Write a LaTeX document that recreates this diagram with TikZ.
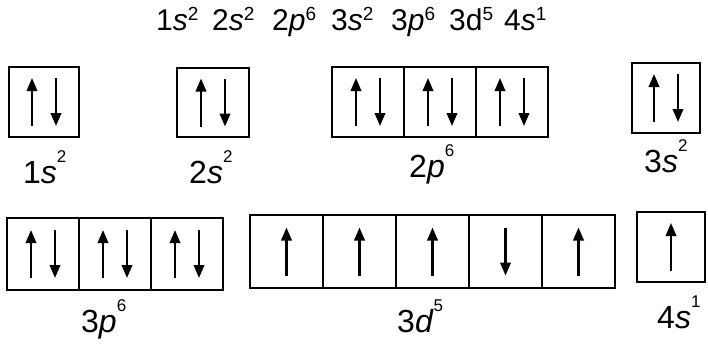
\documentclass[tikz,border=0pt]{standalone}
\usepackage{fontspec}
\setmainfont{Liberation Sans}
\usepackage{graphicx}
\usetikzlibrary{arrows.meta}
\newcommand\tgrp[3]{\fontsize{30}{34}\selectfont #1#2\raisebox{10pt}{\fontsize{19}{22}\selectfont #3}}
\newcommand\lgrp[3]{\fontsize{32}{36}\selectfont #1#2\raisebox{21pt}{\fontsize{17}{20}\selectfont #3}}
\newcommand\spinpair[1]{%
  \draw[spin] ([shift={(-12,24)}]#1.center) -- ([shift={(-12,-24)}]#1.center);
  \draw[spin] ([shift={(12,-24)}]#1.center) -- ([shift={(12,24)}]#1.center);}
\newcommand\spinup[1]{%
  \draw[spin] ([shift={(0,24)}]#1.center) -- ([shift={(0,-24)}]#1.center);}
\newcommand\spindown[1]{%
  \draw[spin] ([shift={(0,-24)}]#1.center) -- ([shift={(0,24)}]#1.center);}
\begin{document}
\begin{tikzpicture}[x=1pt,y=-1pt,
  orbbox/.style={draw, line width=1.8pt, inner sep=0pt, outer sep=0pt},
  thickbox/.style={draw, line width=2.9pt, inner sep=0pt, outer sep=0pt},
  spin/.style={line width=2.2pt, -{Triangle[length=13pt,width=10.5pt]}},
  lbl/.style={anchor=base west, inner sep=0pt}]
\useasboundingbox (0,0) rectangle (708,346);
% title
\node[lbl] (t1) at (156,30) {\tgrp{1}{\textit{s}}{2}};
\node[lbl] (t2) at (212,30) {\tgrp{2}{\textit{s}}{2}};
\node[lbl] (t3) at (272,30) {\tgrp{2}{\textit{p}}{6}};
\node[lbl] (t4) at (331,30) {\tgrp{3}{\textit{s}}{2}};
\node[lbl] (t5) at (391,30) {\tgrp{3}{\textit{p}}{6}};
\node[lbl] (t6) at (449,30) {\tgrp{3}{d}{5}};
\node[lbl] (t7) at (504,30) {\tgrp{4}{\textit{s}}{1}};
% row 1 boxes
\node[orbbox, minimum width=70pt, minimum height=70pt] (s1) at (44,102) {};
\node[orbbox, minimum width=72pt, minimum height=69pt] (s2) at (213,102.5) {};
\node[orbbox, minimum width=72pt, minimum height=70pt] (p2a) at (368,102) {};
\node[orbbox, minimum width=72pt, minimum height=70pt] (p2b) at (440,102) {};
\node[orbbox, minimum width=72pt, minimum height=70pt] (p2c) at (512,102) {};
\node[thickbox, minimum width=68pt, minimum height=70pt] (s3) at (666,98) {};
\spinpair{s1}
\spinpair{s2}
\spinpair{p2a}
\spinpair{p2b}
\spinpair{p2c}
\spinpair{s3}
% row 1 labels
\node[lbl] (l1s) at (23,183) {\lgrp{1}{\textit{s}}{2}};
\node[lbl] (l2s) at (189,183) {\lgrp{2}{\textit{s}}{2}};
\node[lbl] (l2p) at (409,177) {\lgrp{2}{\textit{p}}{6}};
\node[lbl] (l3s) at (644,172) {\lgrp{3}{\textit{s}}{2}};
% row 2 boxes
\node[orbbox, minimum width=72pt, minimum height=72pt] (p3a) at (43,254) {};
\node[orbbox, minimum width=72pt, minimum height=72pt] (p3b) at (115,254) {};
\node[orbbox, minimum width=72pt, minimum height=72pt] (p3c) at (187,254) {};
\node[orbbox, minimum width=73pt, minimum height=73pt] (d3a) at (286.5,251.5) {};
\node[orbbox, minimum width=73pt, minimum height=73pt] (d3b) at (359.5,251.5) {};
\node[orbbox, minimum width=73pt, minimum height=73pt] (d3c) at (432.5,251.5) {};
\node[orbbox, minimum width=73pt, minimum height=73pt] (d3d) at (505.5,251.5) {};
\node[orbbox, minimum width=73pt, minimum height=73pt] (d3e) at (578.5,251.5) {};
\node[thickbox, minimum width=68pt, minimum height=70pt] (s4) at (671,247) {};
\spinpair{p3a}
\spinpair{p3b}
\spinpair{p3c}
\spinup{d3a}
\spinup{d3b}
\spinup{d3c}
\spindown{d3d}
\spinup{d3e}
\spinup{s4}
% row 2 labels
\node[lbl] (l3p) at (81,332) {\lgrp{3}{\textit{p}}{6}};
\node[lbl] (l3d) at (397,332) {\lgrp{3}{\textit{d}}{5}};
\node[lbl] (l4s) at (657,328) {\lgrp{4}{\textit{s}}{1}};
\end{tikzpicture}
\end{document}
